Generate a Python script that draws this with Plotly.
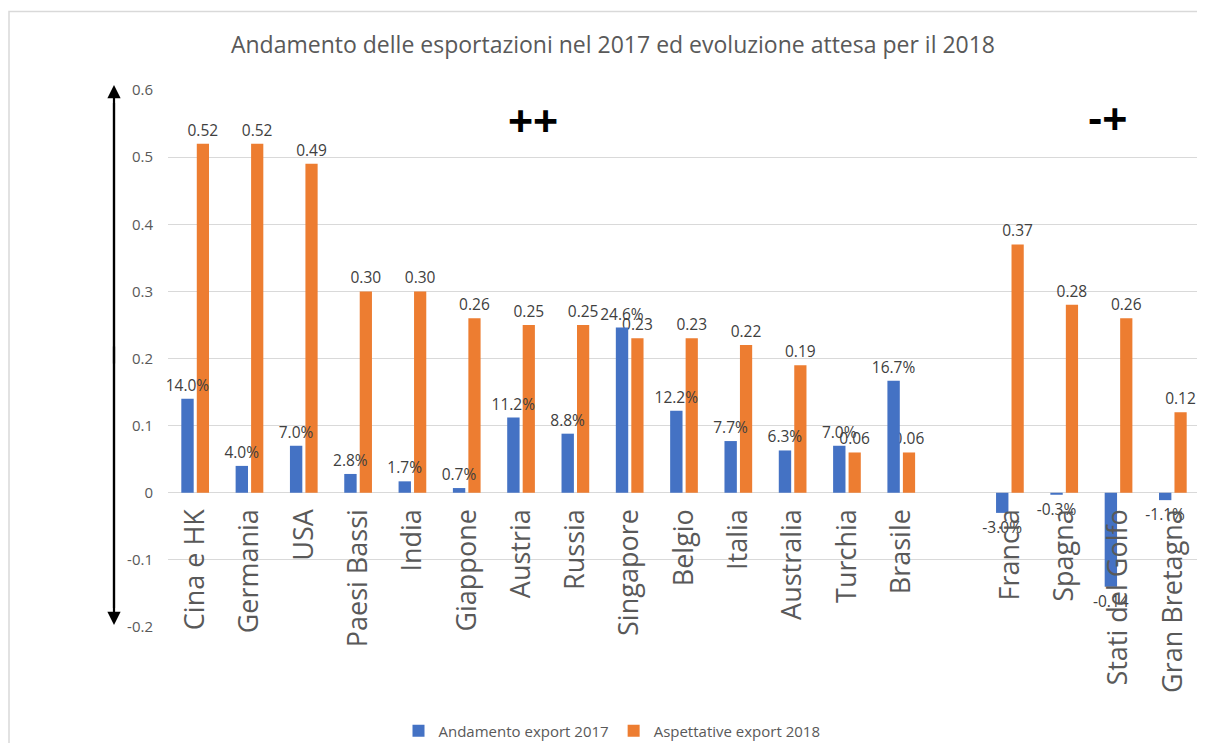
import plotly.graph_objects as go

# ---- data ----
categories = ["Cina e HK", "Germania", "USA", "Paesi Bassi", "India", "Giappone",
              "Austria", "Russia", "Singapore", "Belgio", "Italia", "Australia",
              "Turchia", "Brasile", " ", "Francia", "Spagna", "Stati del Golfo",
              "Gran Bretagna"]
export_2017 = [0.140, 0.040, 0.070, 0.028, 0.017, 0.007, 0.112, 0.088, 0.246,
               0.122, 0.077, 0.063, 0.070, 0.167, None, -0.030, -0.003, -0.140,
               -0.011]
labels_2017 = ["14.0%", "4.0%", "7.0%", "2.8%", "1.7%", "0.7%", "11.2%", "8.8%",
               "24.6%", "12.2%", "7.7%", "6.3%", "7.0%", "16.7%", "", "-3.0%",
               "-0.3%", "-0.14", "-1.1%"]
expect_2018 = [0.52, 0.52, 0.49, 0.30, 0.30, 0.26, 0.25, 0.25, 0.23, 0.23, 0.22,
               0.19, 0.06, 0.06, None, 0.37, 0.28, 0.26, 0.12]
labels_2018 = ["0.52", "0.52", "0.49", "0.30", "0.30", "0.26", "0.25", "0.25",
               "0.23", "0.23", "0.22", "0.19", "0.06", "0.06", "", "0.37", "0.28",
               "0.26", "0.12"]
y_tickvals = [-0.2, -0.1, 0, 0.1, 0.2, 0.3, 0.4, 0.5, 0.6]
y_ticktext = ["-0.2", "-0.1", "0", "0.1", "0.2", "0.3", "0.4", "0.5", "0.6"]
series_names = ["Andamento export 2017", "Aspettative export 2018"]
title_text = "Andamento delle esportazioni nel 2017 ed evoluzione attesa per il 2018"

FONT = "Open Sans"
GRAY = "#595959"
LABEL = "#404040"

W, H = 1197, 735
L, R, T, B = 160, 5, 82, 116
PW = W - L - R
PH = H - T - B

fig = go.Figure()
# orange first so that blue labels are painted on top of it
fig.add_trace(go.Bar(
    x=categories, y=expect_2018, name=series_names[1],
    offset=0.03, width=0.225,
    marker=dict(color="#ED7D31", line=dict(width=0)),
    text=labels_2018, textposition="outside", cliponaxis=False,
    constraintext="none",
    textfont=dict(family=FONT, size=15.5, color=LABEL),
))
fig.add_trace(go.Bar(
    x=categories, y=export_2017, name=series_names[0],
    offset=-0.255, width=0.228,
    marker=dict(color="#4472C4", line=dict(width=0)),
    text=labels_2017, textposition="outside", cliponaxis=False,
    constraintext="none",
    textfont=dict(family=FONT, size=15.5, color=LABEL),
))

fig.update_layout(
    width=W, height=H,
    paper_bgcolor="white", plot_bgcolor="white",
    margin=dict(l=L, r=R, t=T, b=B, autoexpand=False),
    barmode="overlay",
    font=dict(family=FONT, color=GRAY),
    title=dict(text=title_text, xref="container", x=605 / W, xanchor="center",
               yref="container", y=1 - 37 / H, yanchor="middle",
               font=dict(family=FONT, size=23, color=GRAY)),
    showlegend=True,
    legend=dict(orientation="h", x=(604 - L) / PW, xanchor="center",
                y=(T + PH - 723) / PH, yanchor="middle",
                font=dict(family=FONT, size=15, color=GRAY),
                itemwidth=30, traceorder="reversed"),
)

fig.update_xaxes(
    type="category", categoryorder="array", categoryarray=categories,
    anchor="free", position=0.25,
    showline=False, showgrid=False, zeroline=False,
    ticks="", tickangle=-90, ticklabelstandoff=10,
    tickfont=dict(family=FONT, size=27, color=GRAY),
    automargin=False,
)
fig.update_yaxes(
    range=[-0.2, 0.6], tickvals=y_tickvals, ticktext=y_ticktext,
    showgrid=True, gridcolor="#D9D9D9", gridwidth=1,
    zeroline=True, zerolinecolor="#D9D9D9", zerolinewidth=1,
    showline=False, ticks="", ticklabelstandoff=14,
    tickfont=dict(family=FONT, size=15, color=GRAY),
    automargin=False,
)

def px_x(x):
    return (x - L) / PW

def px_y(y):
    return (T + PH - y) / PH

# chart-area border (left and top edges visible)
fig.add_shape(type="rect", xref="paper", yref="paper",
              x0=px_x(1), x1=1.3, y0=-0.5, y1=px_y(3.5),
              line=dict(color="#D9D9D9", width=1.5), fillcolor="rgba(0,0,0,0)",
              layer="below")

# double-headed arrow on the left (continuous shaft + two heads)
arrow_x = px_x(106)
fig.add_shape(type="line", xref="paper", yref="paper",
              x0=arrow_x, x1=arrow_x, y0=px_y(600), y1=px_y(95),
              line=dict(color="black", width=2.2))
fig.add_annotation(xref="paper", yref="paper", x=arrow_x, y=px_y(77), text="",
                   showarrow=True, axref="pixel", ayref="pixel", ax=0, ay=280,
                   arrowhead=2, arrowsize=1.2, arrowwidth=2.2, arrowcolor="black")
fig.add_annotation(xref="paper", yref="paper", x=arrow_x, y=px_y(617), text="",
                   showarrow=True, axref="pixel", ayref="pixel", ax=0, ay=-280,
                   arrowhead=2, arrowsize=1.2, arrowwidth=2.2, arrowcolor="black")

# quadrant markers
fig.add_annotation(xref="paper", yref="paper", x=px_x(525), y=px_y(112),
                   xanchor="center", yanchor="middle",
                   text="<b>++</b>", showarrow=False,
                   font=dict(family="Liberation Sans", size=43, color="black"))
fig.add_annotation(xref="paper", yref="paper", x=px_x(1099), y=px_y(110),
                   xanchor="center", yanchor="middle",
                   text="<b>-+</b>", showarrow=False,
                   font=dict(family="Liberation Sans", size=43, color="black"))

fig.write_html("out.html")
